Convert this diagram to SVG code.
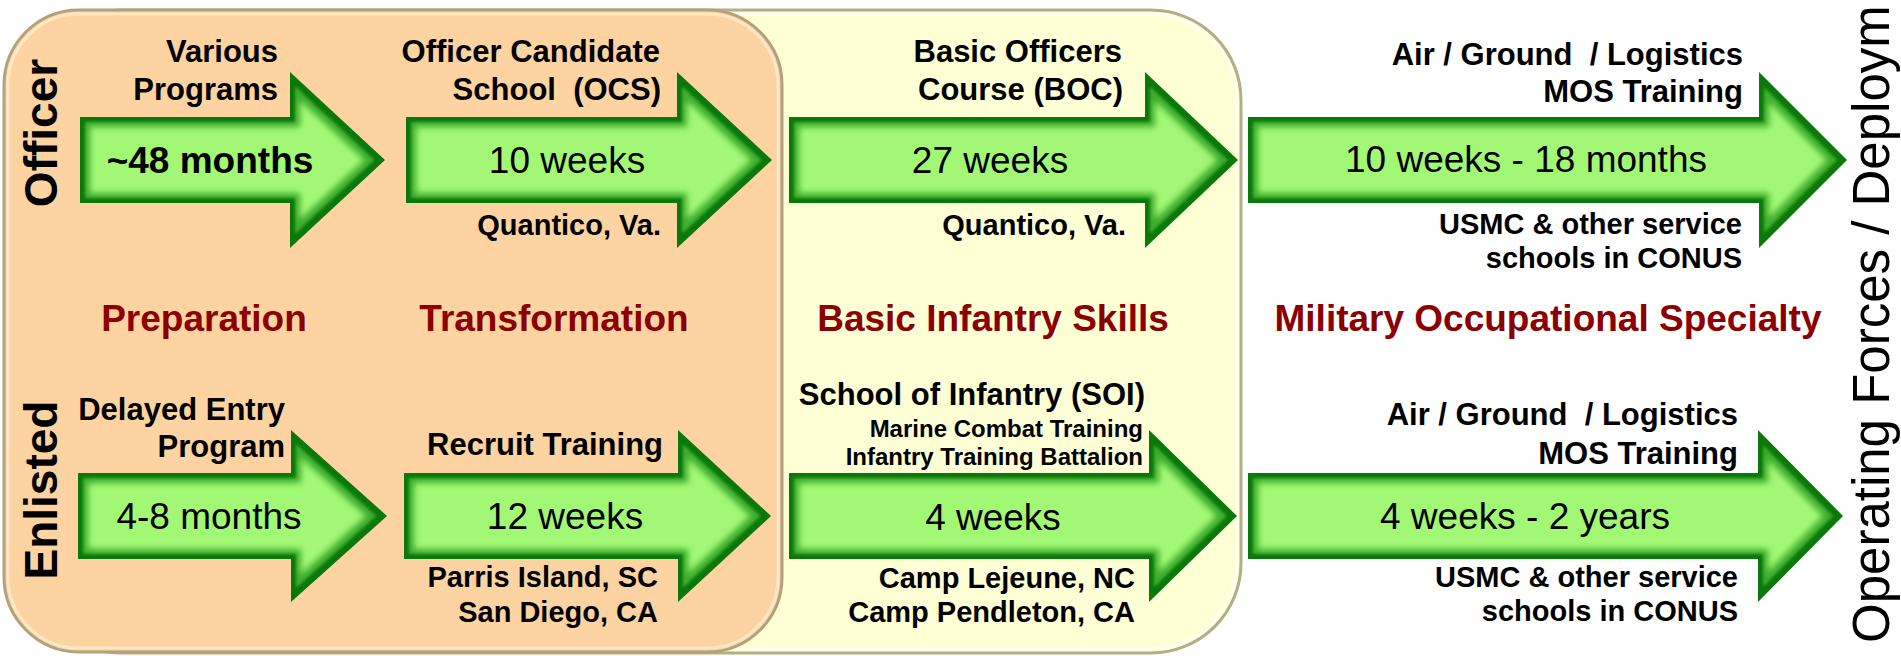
<svg xmlns="http://www.w3.org/2000/svg" width="1901" height="656" viewBox="0 0 1901 656">
<defs>
<style>
text{font-family:"Liberation Sans",Arial,sans-serif;fill:#000}
.lbl{font-size:31px;font-weight:bold;text-anchor:end}
.loc{font-size:29px;font-weight:bold;text-anchor:end}
.sub{font-size:24px;font-weight:bold;text-anchor:end}
.dur{font-size:37px;text-anchor:middle}
.durb{font-size:37px;font-weight:bold;text-anchor:middle}
.sec{font-size:37px;font-weight:bold;fill:#8B0000;text-anchor:middle}
.row{font-size:46px;font-weight:bold;text-anchor:middle}
.side{font-size:51px;text-anchor:start}
.arrow{fill:#0a780a;filter:url(#bev)}
</style>
<filter id="bev" color-interpolation-filters="sRGB">
<feMorphology in="SourceAlpha" operator="erode" radius="5" result="e1"/>
<feGaussianBlur in="e1" stdDeviation="1.5" result="b1"/>
<feFlood flood-color="#3fae2e"/>
<feComposite in2="b1" operator="in" result="mid"/>
<feMorphology in="SourceAlpha" operator="erode" radius="10" result="e2"/>
<feGaussianBlur in="e2" stdDeviation="3" result="b2"/>
<feFlood flood-color="#a2f874"/>
<feComposite in2="b2" operator="in" result="inner"/>
<feMerge><feMergeNode in="SourceGraphic"/><feMergeNode in="mid"/><feMergeNode in="inner"/></feMerge>
</filter>
</defs>
<rect width="1901" height="656" fill="#fff"/>
<g id="box-basic">
<rect x="30" y="10" width="1211" height="643" rx="90" fill="#ffffd6" stroke="#b3ae86" stroke-width="3"/>
<rect x="34" y="14" width="1203" height="635" rx="86" fill="none" stroke="#fffff2" stroke-width="3"/>
</g>
<g id="box-prep">
<rect x="4" y="10" width="778" height="642" rx="75" fill="#fdd3a2" stroke="#b2a17c" stroke-width="3"/>
<rect x="8" y="14" width="770" height="634" rx="71" fill="none" stroke="#ffe8c6" stroke-width="3"/>
</g>
<g id="row-labels">
<text class="row" transform="translate(57,133) rotate(-90)">Officer</text>
<text class="row" transform="translate(57,490) rotate(-90)">Enlisted</text>
</g>
<g id="sections">
<text class="sec" x="204" y="331">Preparation</text>
<text class="sec" x="554" y="331">Transformation</text>
<text class="sec" x="993" y="331">Basic Infantry Skills</text>
<text class="sec" x="1548" y="331">Military Occupational Specialty</text>
</g>
<g id="officer-prep">
<path class="arrow" d="M80 117 H290 V72 L385 160 L290 248 V203 H80 Z"/>
<text class="lbl" x="278" y="62">Various</text>
<text class="lbl" x="278" y="100">Programs</text>
<text class="durb" x="210" y="173">~48 months</text>
</g>
<g id="officer-ocs">
<path class="arrow" d="M406 117 H677 V72 L772 160 L677 248 V203 H406 Z"/>
<text class="lbl" x="660" y="62">Officer Candidate</text>
<text class="lbl" x="661" y="100" xml:space="preserve">School  (OCS)</text>
<text class="dur" x="567" y="173">10 weeks</text>
<text class="loc" x="661" y="235">Quantico, Va.</text>
</g>
<g id="officer-boc">
<path class="arrow" d="M789 117 H1145 V72 L1238 160 L1145 248 V203 H789 Z"/>
<text class="lbl" x="1122" y="62">Basic Officers</text>
<text class="lbl" x="1123" y="100">Course (BOC)</text>
<text class="dur" x="990" y="173">27 weeks</text>
<text class="loc" x="1126" y="235">Quantico, Va.</text>
</g>
<g id="officer-mos">
<path class="arrow" d="M1248 117 H1759 V72 L1847 160 L1759 248 V203 H1248 Z"/>
<text class="lbl" x="1743" y="65" xml:space="preserve">Air / Ground  / Logistics</text>
<text class="lbl" x="1743" y="102">MOS Training</text>
<text class="dur" x="1526" y="172">10 weeks - 18 months</text>
<text class="loc" x="1742" y="234">USMC &amp; other service</text>
<text class="loc" x="1742" y="268">schools in CONUS</text>
</g>
<g id="enlisted-dep">
<path class="arrow" d="M78 473 H291 V430 L387 516 L291 602 V559 H78 Z"/>
<text class="lbl" x="285" y="420">Delayed Entry</text>
<text class="lbl" x="285" y="457">Program</text>
<text class="dur" x="209" y="529">4-8 months</text>
</g>
<g id="enlisted-recruit">
<path class="arrow" d="M404 473 H678 V430 L771 516 L678 602 V559 H404 Z"/>
<text class="lbl" x="663" y="455">Recruit Training</text>
<text class="dur" x="565" y="529">12 weeks</text>
<text class="loc" x="658" y="587">Parris Island, SC</text>
<text class="loc" x="658" y="622">San Diego, CA</text>
</g>
<g id="enlisted-soi">
<path class="arrow" d="M789 473 H1149 V430 L1237 516 L1149 602 V559 H789 Z"/>
<text class="lbl" x="1145" y="405">School of Infantry (SOI)</text>
<text class="sub" x="1143" y="437">Marine Combat Training</text>
<text class="sub" x="1143" y="465">Infantry Training Battalion</text>
<text class="dur" x="993" y="530">4 weeks</text>
<text class="loc" x="1135" y="588">Camp Lejeune, NC</text>
<text class="loc" x="1135" y="622">Camp Pendleton, CA</text>
</g>
<g id="enlisted-mos">
<path class="arrow" d="M1248 473 H1758 V430 L1843 516 L1758 602 V559 H1248 Z"/>
<text class="lbl" x="1738" y="425" xml:space="preserve">Air / Ground  / Logistics</text>
<text class="lbl" x="1738" y="464">MOS Training</text>
<text class="dur" x="1525" y="529">4 weeks - 2 years</text>
<text class="loc" x="1738" y="587">USMC &amp; other service</text>
<text class="loc" x="1738" y="621">schools in CONUS</text>
</g>
<g id="operating-forces">
<text class="side" transform="translate(1889,643) rotate(-90)">Operating Forces / Deploym</text>
</g>
</svg>
